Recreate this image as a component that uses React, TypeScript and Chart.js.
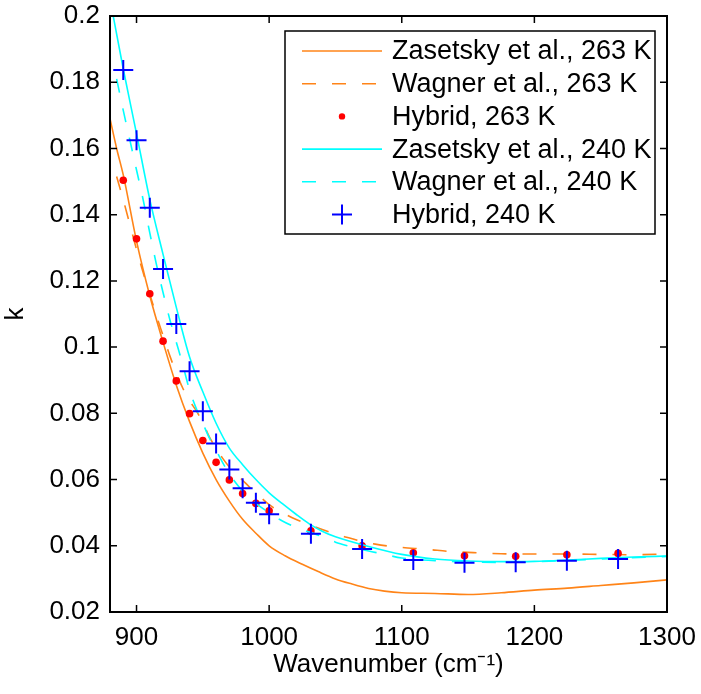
import { useEffect, useRef } from 'react';
import { Chart, registerables } from 'chart.js';

Chart.register(...registerables);

// ---------- data ----------
const zasetsky263Wn = [880, 885, 890, 900, 910, 920, 930, 940, 950, 960, 970, 980, 990, 1000, 1012, 1025, 1037, 1050, 1062, 1075, 1087, 1100, 1125, 1150, 1175, 1200, 1225, 1250, 1275, 1300];
const zasetsky263K = [0.169, 0.160, 0.152, 0.132, 0.1155, 0.1015, 0.0885, 0.0775, 0.068, 0.060, 0.0535, 0.048, 0.0438, 0.0400, 0.0370, 0.0344, 0.0322, 0.0300, 0.0285, 0.0271, 0.0263, 0.0258, 0.0256, 0.0253, 0.0258, 0.0266, 0.0272, 0.0280, 0.0288, 0.0297];

const wagner263Wn = [885, 890, 895, 900, 905, 910, 915, 920, 925, 930, 935, 940, 945, 950, 955, 960, 965, 970, 975, 980, 985, 990, 1000, 1010, 1020, 1030, 1040, 1050, 1060, 1070, 1080, 1090, 1100, 1120, 1135, 1150, 1175, 1200, 1225, 1250, 1275, 1300];
const wagner263K = [0.1515, 0.1445, 0.137, 0.1295, 0.1225, 0.116, 0.1095, 0.1035, 0.0975, 0.0922, 0.0875, 0.0838, 0.0808, 0.0772, 0.0728, 0.0695, 0.0664, 0.0638, 0.0617, 0.0598, 0.0578, 0.0560, 0.0524, 0.0500, 0.0480, 0.0464, 0.0449, 0.0435, 0.0424, 0.0413, 0.0405, 0.0399, 0.0395, 0.0389, 0.0383, 0.0380, 0.0376, 0.0375, 0.0375, 0.0374, 0.0373, 0.0375];

const zasetsky240Wn = [880, 890, 900, 910, 920, 930, 940, 950, 960, 970, 980, 990, 1000, 1010, 1020, 1030, 1040, 1050, 1075, 1100, 1125, 1150, 1175, 1200, 1225, 1250, 1275, 1300];
const zasetsky240K = [0.2052, 0.184, 0.1645, 0.1446, 0.128, 0.112, 0.097, 0.0865, 0.077, 0.0695, 0.0645, 0.060, 0.0560, 0.0527, 0.0496, 0.0467, 0.0444, 0.0427, 0.0398, 0.0374, 0.0360, 0.0354, 0.0352, 0.0353, 0.0357, 0.0362, 0.0366, 0.0369];

const wagner240Wn = [885, 890, 895, 900, 905, 910, 915, 920, 925, 930, 935, 940, 945, 950, 955, 960, 970, 980, 990, 1000, 1010, 1020, 1030, 1040, 1050, 1060, 1075, 1085, 1100, 1125, 1150, 1175, 1200, 1250, 1300];
const wagner240K = [0.181, 0.1715, 0.1625, 0.1535, 0.1445, 0.1345, 0.125, 0.1165, 0.1085, 0.1015, 0.0945, 0.087, 0.0815, 0.077, 0.0725, 0.0688, 0.0617, 0.0565, 0.0528, 0.0500, 0.0475, 0.0456, 0.0442, 0.0428, 0.0411, 0.0399, 0.0384, 0.0376, 0.0363, 0.0355, 0.0351, 0.0350, 0.0352, 0.0360, 0.0368];

const hybridWn = [890, 900, 910, 920, 930, 940, 950, 960, 970, 980, 990, 1000, 1031.5, 1070.1, 1108.7, 1147.3, 1185.9, 1224.5, 1263.1];
const hybrid263K = [0.1504, 0.1327, 0.1161, 0.1018, 0.0898, 0.0799, 0.0718, 0.0652, 0.0599, 0.0558, 0.0528, 0.0506, 0.0445, 0.0400, 0.0379, 0.0370, 0.0368, 0.0373, 0.0377];
const hybrid240K = [0.1837, 0.1625, 0.1421, 0.1236, 0.1070, 0.0927, 0.0806, 0.0709, 0.0630, 0.0574, 0.0530, 0.0495, 0.0436, 0.0390, 0.0357, 0.0349, 0.0350, 0.0355, 0.0360];

const seriesLabels = [
  'Zasetsky et al., 263 K',
  'Wagner et al., 263 K',
  'Hybrid, 263 K',
  'Zasetsky et al., 240 K',
  'Wagner et al., 240 K',
  'Hybrid, 240 K',
];

const xTickValues = [900, 1000, 1100, 1200, 1300];
const yTickValues = [0.02, 0.04, 0.06, 0.08, 0.1, 0.12, 0.14, 0.16, 0.18, 0.2];
const yTickLabels = ['0.02', '0.04', '0.06', '0.08', '0.1', '0.12', '0.14', '0.16', '0.18', '0.2'];

const xTitle = 'Wavenumber (cm⁻¹)';
const yTitle = 'k';

// ---------- styles ----------
const FONT = '"Liberation Sans", Arial, Helvetica, sans-serif';
const FONT_SIZE = 26;
const LEGEND_FONT_SIZE = 27;
const ORANGE = '#ff8418';
const CYAN = '#00ffff';
const RED = '#ff0000';
const BLUE = '#0000ff';
const DASH = [14, 16];

const pairs = (xs: number[], ys: number[]) => xs.map((x, i) => ({ x, y: ys[i] }));

const frameTicksPlugin = {
  id: 'frameTicks',
  afterDraw(chart: any) {
    const ctx = chart.ctx;
    const { left, right, top, bottom } = chart.chartArea;
    const xs = chart.scales.x;
    const ys = chart.scales.y;
    const L = 7;
    ctx.save();
    ctx.strokeStyle = '#000';
    ctx.lineWidth = 1.5;
    ctx.beginPath();
    xTickValues.forEach((v) => {
      const px = xs.getPixelForValue(v);
      ctx.moveTo(px, bottom);
      ctx.lineTo(px, bottom - L);
      ctx.moveTo(px, top);
      ctx.lineTo(px, top + L);
    });
    yTickValues.forEach((v) => {
      const py = ys.getPixelForValue(v);
      ctx.moveTo(left, py);
      ctx.lineTo(left + L, py);
      ctx.moveTo(right, py);
      ctx.lineTo(right - L, py);
    });
    ctx.stroke();
    ctx.lineWidth = 2;
    ctx.strokeRect(left, top, right - left, bottom - top);
    ctx.restore();
  },
};

const legendPlugin = {
  id: 'boxLegend',
  afterDraw(chart: any) {
    const ctx = chart.ctx;
    const { right, top } = chart.chartArea;
    const boxR = right - 12;
    const boxT = top + 15;
    const boxW = 370;
    const boxH = 203;
    const boxL = boxR - boxW;
    const rowH = 32.7;
    ctx.save();
    ctx.fillStyle = '#fff';
    ctx.fillRect(boxL, boxT, boxW, boxH);
    ctx.strokeStyle = '#000';
    ctx.lineWidth = 1.5;
    ctx.strokeRect(boxL, boxT, boxW, boxH);
    chart.data.datasets.forEach((ds: any, i: number) => {
      const y = boxT + 20 + i * rowH;
      const x0 = boxL + 17;
      const x1 = boxL + 97;
      const xc = (x0 + x1) / 2;
      ctx.save();
      if (ds.showLine) {
        ctx.strokeStyle = ds.borderColor;
        ctx.lineWidth = ds.borderWidth;
        ctx.setLineDash(ds.borderDash || []);
        ctx.beginPath();
        ctx.moveTo(x0, y);
        ctx.lineTo(x1, y);
        ctx.stroke();
      } else if (ds.pointStyle === 'cross') {
        ctx.strokeStyle = ds.pointBorderColor;
        ctx.lineWidth = ds.pointBorderWidth;
        const r = ds.pointRadius;
        ctx.beginPath();
        ctx.moveTo(xc - r, y);
        ctx.lineTo(xc + r, y);
        ctx.moveTo(xc, y - r);
        ctx.lineTo(xc, y + r);
        ctx.stroke();
      } else {
        ctx.fillStyle = ds.pointBackgroundColor;
        ctx.beginPath();
        ctx.arc(xc, y, 3.2, 0, Math.PI * 2);
        ctx.fill();
      }
      ctx.restore();
      ctx.fillStyle = '#000';
      ctx.font = `${LEGEND_FONT_SIZE}px ${FONT}`;
      ctx.textAlign = 'left';
      ctx.textBaseline = 'middle';
      ctx.fillText(ds.label, boxL + 107, y + 1);
    });
    ctx.restore();
  },
};

export default function App() {
  const canvasRef = useRef<HTMLCanvasElement | null>(null);

  useEffect(() => {
    if (!canvasRef.current) return;
    const lineDs = (label: string, data: any[], color: string, dashed: boolean, order: number) => ({
      label,
      data,
      showLine: true,
      borderColor: color,
      backgroundColor: color,
      borderWidth: 1.6,
      borderDash: dashed ? DASH : [],
      pointRadius: 0,
      pointHoverRadius: 0,
      cubicInterpolationMode: 'monotone',
      fill: false,
      order,
    });

    const chart = new Chart(canvasRef.current, {
      type: 'scatter',
      data: {
        datasets: [
          lineDs(seriesLabels[0], pairs(zasetsky263Wn, zasetsky263K), ORANGE, false, 6),
          lineDs(seriesLabels[1], pairs(wagner263Wn, wagner263K), ORANGE, true, 5),
          {
            label: seriesLabels[2],
            data: pairs(hybridWn, hybrid263K),
            showLine: false,
            pointStyle: 'circle',
            pointRadius: 3.8,
            pointHoverRadius: 3.8,
            pointBackgroundColor: RED,
            pointBorderColor: RED,
            pointBorderWidth: 0,
            order: 4,
          },
          lineDs(seriesLabels[3], pairs(zasetsky240Wn, zasetsky240K), CYAN, false, 3),
          lineDs(seriesLabels[4], pairs(wagner240Wn, wagner240K), CYAN, true, 2),
          {
            label: seriesLabels[5],
            data: pairs(hybridWn, hybrid240K),
            showLine: false,
            pointStyle: 'cross',
            pointRadius: 10,
            pointHoverRadius: 10,
            pointBackgroundColor: BLUE,
            pointBorderColor: BLUE,
            pointBorderWidth: 2,
            order: 1,
          },
        ] as any,
      },
      options: {
        animation: false,
        responsive: true,
        maintainAspectRatio: false,
        events: [],
        layout: { padding: { top: 16, right: 34, left: 0, bottom: 0 } },
        plugins: {
          legend: { display: false },
          tooltip: { enabled: false },
        },
        scales: {
          x: {
            type: 'linear',
            position: 'bottom',
            min: 880,
            max: 1300,
            afterBuildTicks: (s: any) => {
              s.ticks = xTickValues.map((v) => ({ value: v }));
            },
            afterFit: (s: any) => {
              s.height = 82;
              s.paddingLeft = 0;
              s.paddingRight = 0;
            },
            grid: { display: false, drawTicks: false },
            border: { display: false },
            ticks: {
              autoSkip: false,
              maxRotation: 0,
              padding: 10,
              color: '#000',
              font: { family: FONT, size: FONT_SIZE },
              callback: (v: any) => String(v),
            },
            title: {
              display: true,
              text: xTitle,
              color: '#000',
              font: { family: FONT, size: FONT_SIZE },
              padding: { top: 0, bottom: 14 },
            },
          },
          y: {
            type: 'linear',
            min: 0.02,
            max: 0.2,
            afterBuildTicks: (s: any) => {
              s.ticks = yTickValues.map((v) => ({ value: v }));
            },
            afterFit: (s: any) => {
              s.width = 110;
              s.paddingTop = 0;
              s.paddingBottom = 0;
            },
            grid: { display: false, drawTicks: false },
            border: { display: false },
            ticks: {
              autoSkip: false,
              padding: 10,
              color: '#000',
              font: { family: FONT, size: FONT_SIZE },
              callback: (v: any) => {
                const idx = yTickValues.findIndex((t) => Math.abs(t - Number(v)) < 1e-9);
                return idx >= 0 ? yTickLabels[idx] : '';
              },
            },
            title: {
              display: true,
              text: yTitle,
              color: '#000',
              font: { family: FONT, size: FONT_SIZE },
              padding: { top: 0, bottom: 0 },
            },
          },
        },
      } as any,
      plugins: [frameTicksPlugin, legendPlugin],
    });

    return () => chart.destroy();
  }, []);

  return (
    <div style={{ position: 'absolute', left: 0, top: 0, width: 701, height: 694, background: '#fff' }}>
      <canvas ref={canvasRef} />
    </div>
  );
}
